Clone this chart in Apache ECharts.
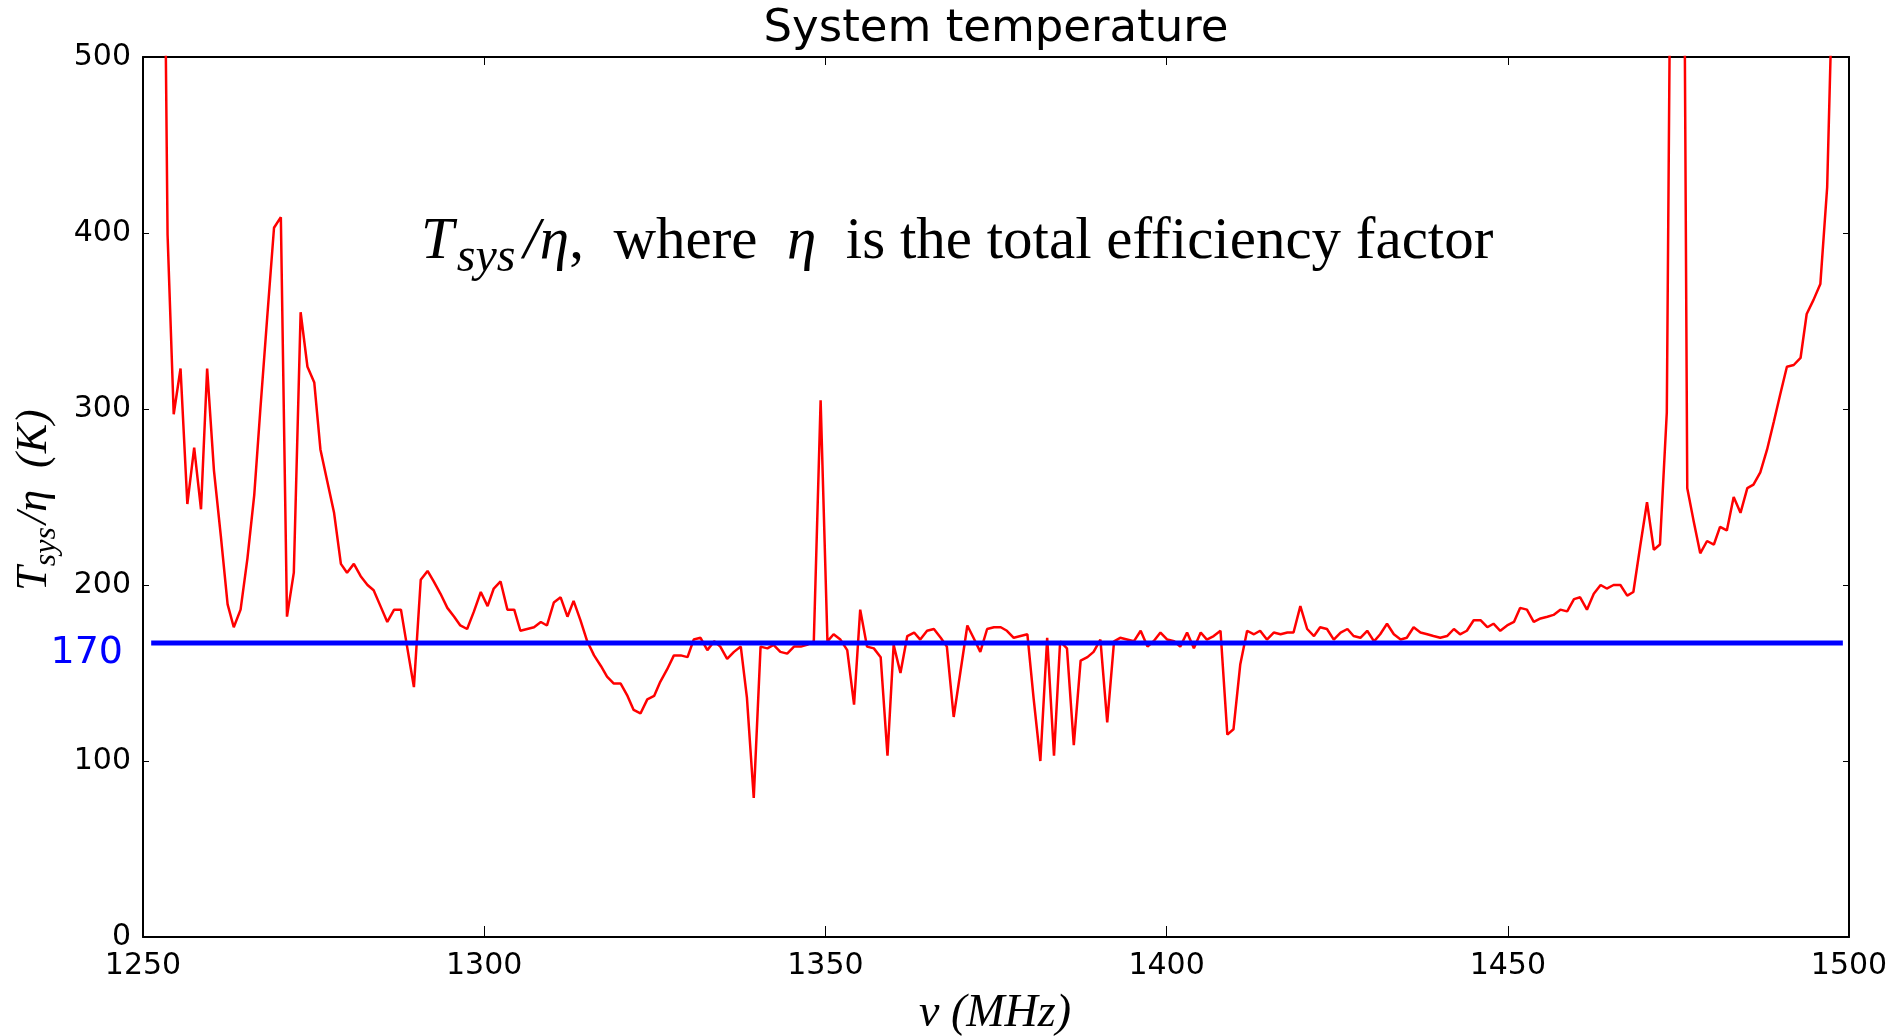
<!DOCTYPE html>
<html><head><meta charset="utf-8">
<script src="https://cdn.jsdelivr.net/npm/echarts@6/dist/echarts.min.js"></script>
<style>html,body{margin:0;padding:0;background:#fff;}#chart{width:1891px;height:1036px;}</style>
</head><body><div id="chart"></div>
<script>
// ---------- data ----------
const titleText = 'System temperature';
const xTicks = [1250, 1300, 1350, 1400, 1450, 1500];
const yTicks = [0, 100, 200, 300, 400, 500];

// channel frequencies (MHz)
const freq = [
  1252.6, 1253.6, 1254.5, 1255.5, 1256.5, 1257.5, 1258.5,
  1259.4, 1260.4, 1261.4, 1262.4, 1263.3, 1264.3, 1265.3, 1266.3, 1267.2, 1268.2,
  1269.2, 1270.2, 1271.1, 1272.1, 1273.1, 1274.1, 1275.1, 1276.0, 1277.0, 1278.0,
  1279.0, 1279.9, 1280.9, 1281.9, 1282.9, 1283.8, 1284.8, 1285.8, 1286.8, 1287.8,
  1288.7, 1289.7, 1290.7, 1291.7, 1292.6, 1293.6, 1294.6, 1295.6, 1296.5, 1297.5,
  1298.5, 1299.5, 1300.5, 1301.4, 1302.4, 1303.4, 1304.4, 1305.3, 1306.3, 1307.3,
  1308.3, 1309.2, 1310.2, 1311.2, 1312.2, 1313.1, 1314.1, 1315.1, 1316.1, 1317.1,
  1318.0, 1319.0, 1320.0, 1321.0, 1321.9, 1322.9, 1323.9, 1324.9, 1325.8, 1326.8,
  1327.8, 1328.8, 1329.8, 1330.7, 1331.7, 1332.7, 1333.7, 1334.6, 1335.6, 1336.6,
  1337.6, 1338.5, 1339.5, 1340.5, 1341.5, 1342.4, 1343.4, 1344.4, 1345.4, 1346.4,
  1347.3, 1348.3, 1349.3, 1350.3, 1351.2, 1352.2, 1353.2, 1354.2, 1355.1, 1356.1,
  1357.1, 1358.1, 1359.1, 1360.0, 1361.0, 1362.0, 1363.0, 1363.9, 1364.9, 1365.9,
  1366.9, 1367.8, 1368.8, 1369.8, 1370.8, 1371.7, 1372.7, 1373.7, 1374.7, 1375.7,
  1376.6, 1377.6, 1378.6, 1379.6, 1380.5, 1381.5, 1382.5, 1383.5, 1384.4, 1385.4,
  1386.4, 1387.4, 1388.4, 1389.3, 1390.3, 1391.3, 1392.3, 1393.2, 1394.2, 1395.2,
  1396.2, 1397.2, 1398.1, 1399.1, 1400.1, 1401.1, 1402.0, 1403.0, 1404.0, 1405.0,
  1405.9, 1406.9, 1407.9, 1408.9, 1409.8, 1410.8, 1411.8, 1412.8, 1413.7, 1414.7,
  1415.7, 1416.7, 1417.7, 1418.6, 1419.6, 1420.6, 1421.6, 1422.5, 1423.5, 1424.5,
  1425.5, 1426.5, 1427.4, 1428.4, 1429.4, 1430.4, 1431.3, 1432.3, 1433.3, 1434.3,
  1435.2, 1436.2, 1437.2, 1438.2, 1439.1, 1440.1, 1441.1, 1442.1, 1443.0, 1444.0,
  1445.0, 1446.0, 1447.0, 1447.9, 1448.9, 1449.9, 1450.9, 1451.8, 1452.8, 1453.8,
  1454.8, 1455.8, 1456.7, 1457.7, 1458.7, 1459.7, 1460.6, 1461.6, 1462.6, 1463.6,
  1464.5, 1465.5, 1466.5, 1467.5, 1468.4, 1469.4, 1470.4, 1471.4, 1472.3, 1473.3,
  1474.3, 1475.3, 1476.3, 1477.2, 1478.2, 1479.2, 1480.2, 1481.1, 1482.1, 1483.1,
  1484.1, 1485.1, 1486.0, 1487.0, 1488.0, 1489.0, 1489.9, 1490.9, 1491.9, 1492.9,
  1493.8, 1494.8, 1495.8, 1496.8, 1497.7, 1498.7
];

// Tsys / eta (K)
const tsys = [
  803, 399, 297, 323, 246, 278, 243,
  323, 265, 228, 189, 176, 186, 215, 251, 300, 352,
  403, 409, 182, 207, 355, 324, 315, 277, 259, 241,
  212, 207, 212, 205, 200, 197, 188, 179, 186, 186,
  165, 142, 203, 208, 202, 195, 187, 182, 177, 175,
  185, 196, 188, 198, 202, 186, 186, 174, 175, 176,
  179, 177, 190, 193, 182, 191, 180, 168, 160, 154,
  148, 144, 144, 137, 129, 127, 135, 137, 145, 152,
  160, 160, 159, 169, 170, 163, 168, 165, 158, 162,
  165, 136, 79, 165, 164, 166, 162, 161, 165, 165,
  166, 168, 305, 168, 172, 169, 163, 132, 186, 165,
  164, 159, 103, 166, 150, 171, 173, 169, 174, 175,
  170, 165, 125, 151, 177, 170, 162, 175, 176, 176,
  174, 170, 171, 172, 136, 100, 170, 103, 168, 164,
  109, 157, 159, 162, 169, 122, 168, 170, 169, 168,
  174, 165, 168, 173, 169, 168, 165, 173, 164, 173,
  169, 171, 174, 115, 118, 155, 174, 172, 174, 169,
  173, 172, 173, 173, 188, 175, 171, 176, 175, 169,
  173, 175, 171, 170, 174, 168, 172, 178, 172, 169,
  170, 176, 173, 172, 171, 170, 171, 175, 172, 174,
  180, 180, 176, 178, 174, 177, 179, 187, 186, 179,
  181, 182, 183, 186, 185, 192, 193, 186, 195, 200,
  198, 200, 200, 194, 196, 222, 247, 220, 223, 298,
  803, 955, 255, 237, 218, 225, 223, 233, 231, 250,
  241, 255, 257, 264, 277, 293, 308, 324, 325, 329,
  354, 362, 371, 426, 561, 700
];

// reference level line
const refFreq = [1251.2, 1499.1];
const refLevel = [167, 167];
const refLabel = '170';

// ---------- chart ----------
const chart = echarts.init(document.getElementById('chart'), null, {renderer: 'canvas'});
const lineData = freq.map((f, i) => [f, tsys[i]]);
const refData = refFreq.map((f, i) => [f, refLevel[i]]);
const SERIF = '"Liberation Serif", "DejaVu Serif", serif';
const SANS = '"DejaVu Sans", sans-serif';
const plain = v => String(v);

const axisCommon = {
  type: 'value',
  splitLine: {show: false},
  axisLine: {show: true, onZero: false, lineStyle: {color: '#000', width: 2}},
  axisTick: {show: true, inside: true, lineStyle: {color: '#000', width: 1}}
};

chart.setOption({
  animation: false,
  backgroundColor: '#fff',
  grid: {left: 143, right: 42, top: 57, bottom: 99},
  xAxis: [
    Object.assign({}, axisCommon, {
      min: xTicks[0], max: xTicks[xTicks.length - 1], interval: 50, position: 'bottom',
      axisTick: {show: true, inside: true, length: 11, lineStyle: {color: '#000'}},
      axisLabel: {fontSize: 30, fontFamily: SANS, color: '#000', margin: 14, formatter: plain}
    }),
    Object.assign({}, axisCommon, {
      min: xTicks[0], max: xTicks[xTicks.length - 1], interval: 50, position: 'top',
      axisTick: {show: true, inside: true, length: 8, lineStyle: {color: '#000'}},
      axisLabel: {show: false}
    })
  ],
  yAxis: [
    Object.assign({}, axisCommon, {
      min: yTicks[0], max: yTicks[yTicks.length - 1], interval: 100, position: 'left',
      axisTick: {show: true, inside: true, length: 6, lineStyle: {color: '#000'}},
      axisLabel: {fontSize: 30, fontFamily: SANS, color: '#000', margin: 12, formatter: plain}
    }),
    Object.assign({}, axisCommon, {
      min: yTicks[0], max: yTicks[yTicks.length - 1], interval: 100, position: 'right',
      axisTick: {show: true, inside: true, length: 6, lineStyle: {color: '#000'}},
      axisLabel: {show: false}
    })
  ],
  series: [
    {
      type: 'line', name: 'Tsys/eta', data: lineData, showSymbol: false, clip: true,
      lineStyle: {color: '#ff0000', width: 2.5}, z: 3
    },
    {
      type: 'line', name: 'level', data: refData, showSymbol: false, clip: true,
      lineStyle: {color: '#0000ff', width: 5}, z: 4
    }
  ],
  graphic: [
    {
      type: 'text', x: 996, y: 29, z: 10,
      style: {text: titleText, font: '45px ' + SANS, fill: '#000', align: 'center', verticalAlign: 'middle'}
    },
    {
      type: 'text', x: 123, y: 653, z: 10,
      style: {text: refLabel, font: '38px ' + SANS, fill: '#0000ff', align: 'right', verticalAlign: 'middle'}
    },
    {
      type: 'text', x: 421, y: 242, z: 10,
      style: {
        text: '{t|T}{sub|sys}{it|/η}{rm|,  where  }{it|η}{rm|  is the total efficiency factor}',
        align: 'left', verticalAlign: 'middle',
        rich: {
          t: {fontFamily: SERIF, fontStyle: 'italic', fontSize: 59, lineHeight: 80, color: '#000', padding: [0, 3, 0, 0]},
          it: {fontFamily: SERIF, fontStyle: 'italic', fontSize: 59, lineHeight: 80, color: '#000'},
          rm: {fontFamily: SERIF, fontSize: 59, lineHeight: 80, color: '#000'},
          sub: {fontFamily: SERIF, fontStyle: 'italic', fontSize: 48, lineHeight: 52, verticalAlign: 'bottom', color: '#000', padding: [0, 8, 0, 0]}
        }
      }
    },
    {
      type: 'text', x: 34, y: 500, rotation: Math.PI / 2, z: 10,
      style: {
        text: '{it|T}{sub|sys}{it|/η  (K)}',
        align: 'center', verticalAlign: 'middle',
        rich: {
          it: {fontFamily: SERIF, fontStyle: 'italic', fontSize: 44, lineHeight: 58, color: '#000'},
          sub: {fontFamily: SERIF, fontStyle: 'italic', fontSize: 32, lineHeight: 34, verticalAlign: 'bottom', color: '#000', padding: [0, 3, 0, 0]}
        }
      }
    },
    {
      type: 'text', x: 995, y: 1014, z: 10,
      style: {
        text: '{it|ν (MHz)}', align: 'center', verticalAlign: 'middle',
        rich: {it: {fontFamily: SERIF, fontStyle: 'italic', fontSize: 46, color: '#000'}}
      }
    }
  ]
});
</script>
</body></html>
